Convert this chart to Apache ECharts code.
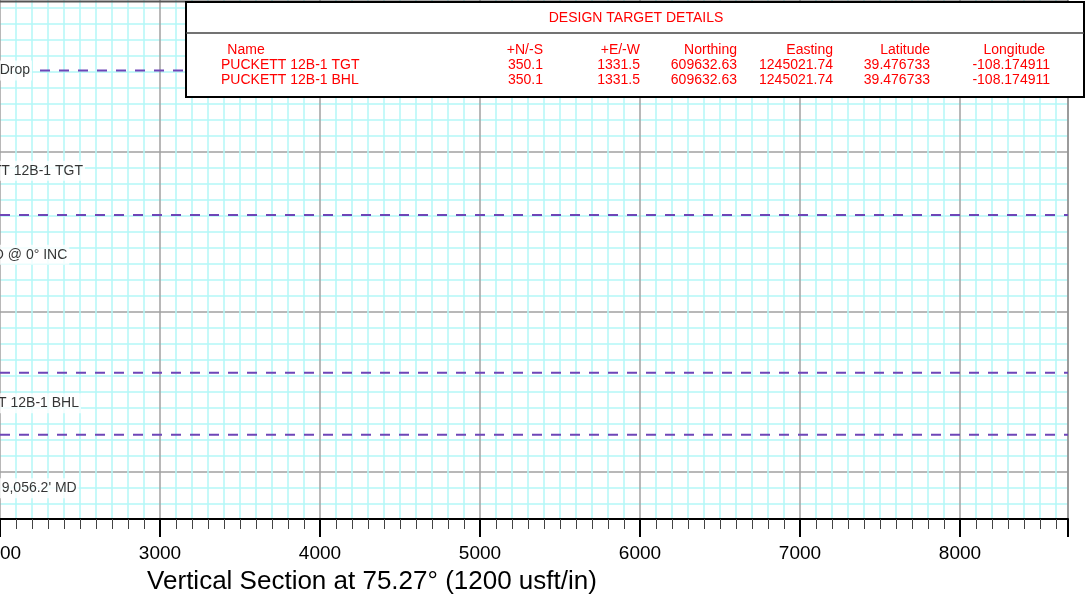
<!DOCTYPE html>
<html>
<head>
<meta charset="utf-8">
<script src="https://cdn.jsdelivr.net/npm/echarts@6/dist/echarts.min.js"></script>
<style>
html,body{margin:0;padding:0;background:#fff;}
#chart{width:1086px;height:602px;}
</style>
</head>
<body>
<div id="chart"></div>
<script>
// ---- Data ----
var xMin = 2000, xMax = 8675, xInterval = 1000;
var yMin = 5000, yMax = 8293.75, yInterval = 1000;   // TVD, increasing downward
var axisTitle = 'Vertical Section at 75.27\u00b0 (1200 usft/in)';

// dashed horizontal lines (TVD) and where they start on the section axis
var lineTVD   = [5490, 6394, 7379, 7767];
var lineStart = [2250, 2000, 2000, 2000];

// annotation texts, their right edge (vertical section) and TVD
var annoText = ['Start Drop', 'PUCKETT 12B-1 TGT', 'Start Hold at 6,640.0 TVD @ 0\u00b0 INC', 'PUCKETT 12B-1 BHL', 'TD at 9,056.2\' MD'];
var annoVS   = [2200, 2531, 2433, 2506, 2492];
var annoTVD  = [5490, 6117, 6642, 7571, 8102];

// design target table
var tableTitle   = 'DESIGN TARGET DETAILS';
var tableHeaders = ['Name', '+N/-S', '+E/-W', 'Northing', 'Easting', 'Latitude', 'Longitude'];
var targetNames  = ['PUCKETT 12B-1 TGT', 'PUCKETT 12B-1 BHL'];
var targetNS     = ['350.1', '350.1'];
var targetEW     = ['1331.5', '1331.5'];
var targetNorth  = ['609632.63', '609632.63'];
var targetEast   = ['1245021.74', '1245021.74'];
var targetLat    = ['39.476733', '39.476733'];
var targetLon    = ['-108.174911', '-108.174911'];

// ---- Build ----
var FONT = '"Liberation Sans", Arial, sans-serif';
var series = [];
lineTVD.forEach(function (v, i) {
  series.push({
    type: 'line', silent: true, showSymbol: false, animation: false,
    data: [[lineStart[i], v], [xMax, v]],
    lineStyle: { color: '#6e46b8', width: 2, type: [10, 9] },
    z: 3
  });
});
series.push({
  type: 'scatter', symbolSize: 0, animation: false, silent: true, z: 5,
  data: annoText.map(function (t, i) { return { value: [annoVS[i], annoTVD[i]], name: t }; }),
  label: {
    show: true, position: 'left', distance: 0,
    formatter: function (p) { return p.name; },
    color: '#000', fontFamily: FONT, fontSize: 14,
    backgroundColor: '#fff', padding: [3, 2, 3, 4]
  }
});

// table graphic
var TL = 186, TT = 2, TR = 1084, TB = 97;
var colX = [221, 543, 640, 737, 833, 930, 1045];
var colValX = [221, 543, 640, 737, 833, 930, 1050];
var red = '#ff0000';
var tableEls = [
  { type: 'rect', shape: { x: TL, y: TT, width: TR - TL, height: TB - TT },
    style: { fill: '#fff', stroke: '#000', lineWidth: 2 }, z: 100 },
  { type: 'line', shape: { x1: TL, y1: 33, x2: TR, y2: 33 },
    style: { stroke: '#444', lineWidth: 1.5 }, z: 101 },
  { type: 'text', style: { text: tableTitle, x: 636, y: 18, align: 'center', verticalAlign: 'middle',
    fill: red, font: '14px ' + FONT }, z: 101 }
];
tableHeaders.forEach(function (h, j) {
  tableEls.push({ type: 'text', style: {
    text: h, x: j === 0 ? 246 : colX[j], y: 50, align: j === 0 ? 'center' : 'right',
    verticalAlign: 'middle', fill: red, font: '14px ' + FONT }, z: 101 });
});
var cols = [targetNames, targetNS, targetEW, targetNorth, targetEast, targetLat, targetLon];
targetNames.forEach(function (n, r) {
  cols.forEach(function (c, j) {
    tableEls.push({ type: 'text', style: {
      text: c[r], x: colValX[j], y: 65 + r * 15.5, align: j === 0 ? 'left' : 'right',
      verticalAlign: 'middle', fill: red, font: '14px ' + FONT }, z: 101 });
  });
});
tableEls.push({ type: 'line', shape: { x1: 0, y1: 1.5, x2: 1068, y2: 1.5 },
  style: { stroke: '#555', lineWidth: 2 }, z: 50 });
tableEls.push({ type: 'text', style: { text: axisTitle, x: 372, y: 582, align: 'center',
  verticalAlign: 'middle', fill: '#000', font: '26px ' + FONT }, z: 50 });

var chart = echarts.init(document.getElementById('chart'), null, { renderer: 'canvas' });
chart.setOption({
  animation: false,
  backgroundColor: '#fff',
  grid: { left: 0, right: 18, top: -8, bottom: 83, containLabel: false, outerBoundsMode: 'none' },
  xAxis: {
    type: 'value', min: xMin, max: xMax, interval: xInterval,
    axisLine: { show: true, onZero: false, lineStyle: { color: '#000', width: 2 } },
    axisTick: { show: true, length: 18, lineStyle: { color: '#000', width: 2 } },
    minorTick: { show: true, splitNumber: 10, length: 10, lineStyle: { color: '#444', width: 1 } },
    axisLabel: { show: true, margin: 25, color: '#000', fontSize: 19, fontFamily: FONT,
      verticalAlign: 'top', showMaxLabel: false, hideOverlap: false,
      formatter: function (v) { return String(v); } },
    splitLine: { show: true, lineStyle: { color: '#a0a0a0', width: 1.5 } },
    minorSplitLine: { show: true, lineStyle: { color: '#b4f8f8', width: 1.5 } },
    z: 2
  },
  yAxis: {
    type: 'value', inverse: true, position: 'right', min: yMin, max: yMax, interval: yInterval,
    axisLine: { show: true, onZero: false, lineStyle: { color: '#666', width: 1.5 } },
    axisTick: { show: false },
    minorTick: { show: false, splitNumber: 10 },
    axisLabel: { show: false },
    splitLine: { show: true, lineStyle: { color: '#a0a0a0', width: 1.5 } },
    minorSplitLine: { show: true, lineStyle: { color: '#b4f8f8', width: 1.5 } }
  },
  series: series,
  graphic: tableEls
});
</script>
</body>
</html>
